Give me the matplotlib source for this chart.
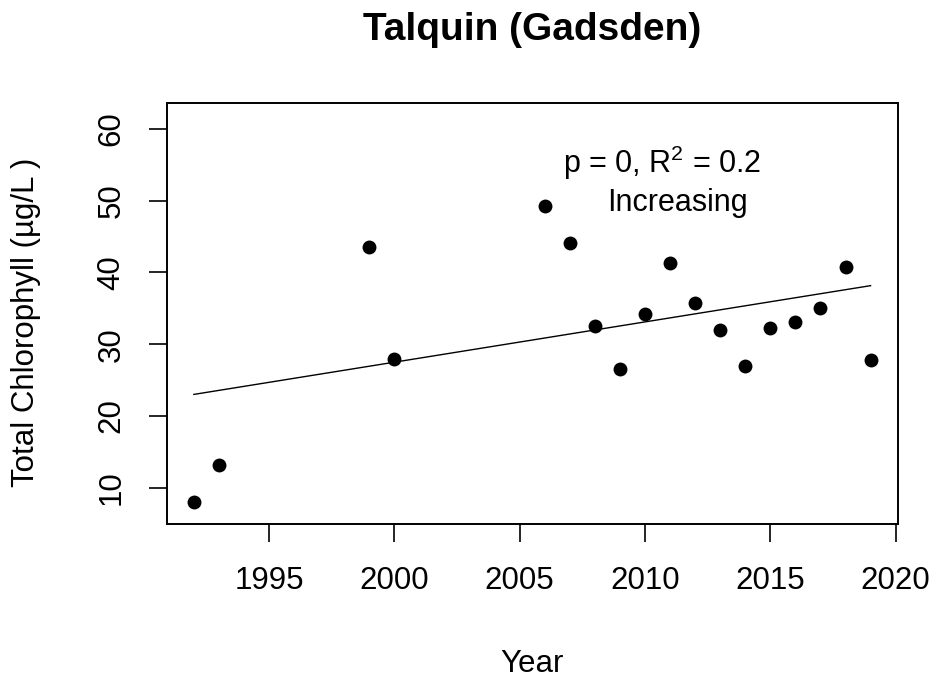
import numpy as np
import matplotlib
matplotlib.use("Agg")
import matplotlib.pyplot as plt

plt.rcParams['font.family'] = ['Liberation Sans', 'DejaVu Sans']
plt.rcParams['mathtext.default'] = 'regular'

# yearly mean total chlorophyll
years = np.array([1992, 1993, 1999, 2000, 2006, 2007, 2008, 2009, 2010,
                  2011, 2012, 2013, 2014, 2015, 2016, 2017, 2018, 2019])
chl = np.array([8.0, 13.1, 43.6, 28.0, 49.2, 44.1, 32.5, 26.6, 34.2,
                41.3, 35.7, 32.0, 26.9, 32.2, 33.1, 35.0, 40.7, 27.8])
xticks = [1995, 2000, 2005, 2010, 2015, 2020]
yticks = [10, 20, 30, 40, 50, 60]

title = "Talquin (Gadsden)"
stat_text = "p = 0, R$^{2}$ = 0.2"
trend_text = "Increasing"

fig = plt.figure(figsize=(9.37, 6.78), dpi=100)
ax = fig.add_axes([0.178, 0.2271, 0.780, 0.6210])

# linear trend
slope, icpt = np.polyfit(years, chl, 1)
xl = np.array([years.min(), years.max()])
ax.plot(xl, icpt + slope * xl, color='black', lw=1.0)

ax.scatter(years, chl, s=100, color='black', zorder=3, linewidths=0)

pad = 0.04 * (years.max() - years.min())
ax.set_xlim(years.min() - pad, years.max() + pad)
ax.set_ylim(4.94, 63.6)
ax.set_xticks(xticks)
ax.set_yticks(yticks)
ax.tick_params(length=13, width=1.2, labelsize=22.5, color='black')
ax.tick_params(axis='x', pad=17)
ax.tick_params(axis='y', pad=16)
for lbl in ax.get_yticklabels():
    lbl.set_rotation(90)
    lbl.set_va('center')
for s in ax.spines.values():
    s.set_linewidth(1.4)

ax.text(2010.69, 53.85, stat_text, ha='center', va='baseline', fontsize=22)
ax.text(2011.31, 48.5, trend_text, ha='center', va='baseline', fontsize=22)

fig.text(532.5 / 937, 1 - 30 / 678, title, ha='center', va='center',
         fontsize=28, fontweight='bold')
fig.text(532 / 937, 1 - 672 / 678, "Year", ha='center', va='baseline',
         fontsize=22.5)
fig.text(26 / 937, 1 - 322 / 678, "Total Chlorophyll (\u00b5g/L )",
         ha='center', va='center', rotation=90, fontsize=22.5)

fig.savefig("out.png", dpi=100)
